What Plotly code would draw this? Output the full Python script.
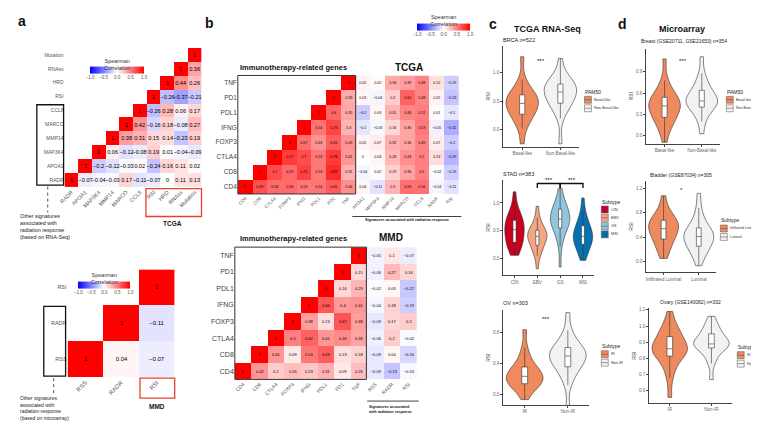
import plotly.graph_objects as go

W, H = 759, 421

# ---------------- data ----------------
a_tcga_labels = ["RADR", "APOA1", "MAP3K4", "MMP14", "MARCO", "CCL8", "RSI", "HRD", "RNAss", "Mutation"]
a_tcga_rows = [
    [1, -0.07, -0.04, -0.03, 0.17, -0.11, -0.07, 0, 0.11, 0.13],
    [1, -0.2, -0.12, -0.03, 0.02, -0.24, 0.16, 0.11, 0.02],
    [1, 0.06, -0.12, -0.08, 0.19, 0.01, -0.04, -0.09],
    [1, 0.38, 0.31, 0.15, 0.14, -0.23, 0.19],
    [1, 0.42, -0.16, 0.18, -0.08, 0.27],
    [1, -0.26, 0.28, 0.06, 0.17],
    [1, -0.26, -0.37, -0.21],
    [1, 0.44, 0.26],
    [1, 0.36],
    [1],
]
a_mmd_labels = ["RSS", "RADR", "RSI"]
a_mmd_rows = [[1, 0.04, -0.07], [1, -0.11], [1]]

imm_genes = ["CD4", "CD8", "CTLA4", "FOXP3", "IFNG", "PDL1", "PD1", "TNF"]
b_tcga_imm = [
    [1, 0.69, 0.58, 0.58, 0.53, 0.54, 0.65, 0.44],
    [1, 0.7, 0.59, 0.75, 0.53, 0.83, 0.31],
    [1, 0.77, 0.7, 0.53, 0.78, 0.41],
    [1, 0.57, 0.43, 0.63, 0.43],
    [1, 0.54, 0.73, 0.3],
    [1, 0.6, 0.35],
    [1, 0.33],
    [1],
]
b_tcga_sigs = ["APOA1", "MAP3K4", "MMP14", "MARCO", "CCL8", "RADR", "RSI"]
b_tcga_sig_vals = [
    [0.04, -0.11, 0.3, 0.56, 0.56, -0.04, -0.11],
    [-0.04, 0.02, 0.19, 0.36, 0.5, -0.02, -0.19],
    [0, 0.04, 0.28, 0.43, 0.5, 0.13, -0.29],
    [0.05, 0.07, 0.32, 0.36, 0.49, 0.07, -0.2],
    [-0.1, -0.03, 0.16, 0.36, 0.53, -0.05, -0.32],
    [-0.2, 0.03, 0.31, 0.48, 0.51, 0.01, -0.1],
    [0.03, -0.04, 0.2, 0.61, 0.48, 0.05, -0.23],
    [0.05, 0.02, 0.33, 0.39, 0.48, 0.12, -0.19],
]
b_mmd_imm = [
    [1, 0.42, 0.2, 0.26, 0.23, 0.31, 0.09, 0.26],
    [1, 0.41, 0.09, 0.53, 0.63, 0.13, 0.18],
    [1, 0.5, 0.62, 0.41, 0.46, 0.36],
    [1, 0.38, 0.13, 0.67, 0.38],
    [1, 0.66, 0.4, 0.42],
    [1, 0.16, 0.29],
    [1, 0.15],
    [1],
]
b_mmd_sigs = ["RSS", "RADR", "RSI"]
b_mmd_sig_vals = [
    [-0.09, -0.23, -0.03],
    [-0.09, 0.04, -0.16],
    [-0.06, 0.2, -0.02],
    [-0.09, 0.17, 0.2],
    [-0.04, 0.18, -0.19],
    [-0.02, 0.03, -0.22],
    [-0.06, 0.27, 0.16],
    [-0.05, 0.1, -0.07],
]

# violin samples (approximate quantiles)
brca_groups = ["Basal-like", "Non-Basal-like"]
brca_basal = [-0.25, 0.02, 0.12, 0.19, 0.24, 0.28, 0.32, 0.36, 0.40, 0.43, 0.46, 0.49, 0.52, 0.55, 0.57, 0.60, 0.64, 0.69, 0.76, 0.88, 1.28]
brca_nonbasal = [-0.25, 0.20, 0.33, 0.40, 0.44, 0.47, 0.52, 0.56, 0.60, 0.63, 0.66, 0.69, 0.72, 0.75, 0.77, 0.79, 0.83, 0.87, 0.92, 1.00, 1.25]

stad_groups = ["CIN", "EBV", "GS", "MSI"]
stad_cin = [0.06, 0.15, 0.20, 0.24, 0.27, 0.30, 0.35, 0.40, 0.44, 0.48, 0.52, 0.55, 0.59, 0.63, 0.66, 0.68, 0.72, 0.77, 0.83, 0.92, 1.20]
stad_ebv = [-0.18, 0.05, 0.11, 0.16, 0.21, 0.25, 0.29, 0.33, 0.36, 0.38, 0.40, 0.42, 0.44, 0.47, 0.49, 0.50, 0.54, 0.59, 0.65, 0.74, 0.94]
stad_gs = [-0.15, 0.22, 0.36, 0.45, 0.52, 0.56, 0.60, 0.63, 0.66, 0.69, 0.71, 0.74, 0.77, 0.80, 0.84, 0.88, 0.92, 0.96, 1.02, 1.10, 1.26]
stad_msi = [-0.03, 0.08, 0.13, 0.18, 0.23, 0.27, 0.31, 0.34, 0.37, 0.39, 0.40, 0.43, 0.46, 0.50, 0.54, 0.58, 0.62, 0.68, 0.75, 0.85, 1.09]

ov_groups = ["IR", "Non-IR"]
ov_ir = [-0.07, 0.04, 0.08, 0.10, 0.12, 0.14, 0.16, 0.18, 0.20, 0.22, 0.23, 0.25, 0.27, 0.30, 0.32, 0.34, 0.38, 0.43, 0.50, 0.60, 0.83]
ov_nonir = [-0.18, 0.12, 0.22, 0.28, 0.33, 0.36, 0.39, 0.42, 0.45, 0.47, 0.49, 0.51, 0.53, 0.55, 0.57, 0.59, 0.63, 0.67, 0.73, 0.82, 1.05]

breast_groups = ["Basal-like", "Non-Basal-like"]
breast_basal = [-0.09, 0.08, 0.14, 0.19, 0.23, 0.27, 0.31, 0.34, 0.37, 0.40, 0.42, 0.44, 0.46, 0.49, 0.51, 0.53, 0.57, 0.62, 0.68, 0.78, 1.08]
breast_nonbasal = [0.03, 0.20, 0.28, 0.33, 0.38, 0.41, 0.44, 0.46, 0.47, 0.48, 0.49, 0.51, 0.54, 0.57, 0.60, 0.63, 0.67, 0.72, 0.79, 0.88, 1.11]

bladder_groups = ["Infiltrated Luminal", "Luminal"]
bladder_il = [0.05, 0.16, 0.22, 0.28, 0.33, 0.38, 0.42, 0.46, 0.49, 0.52, 0.54, 0.57, 0.60, 0.63, 0.65, 0.67, 0.70, 0.74, 0.79, 0.88, 1.08]
bladder_lum = [-0.07, 0.08, 0.13, 0.18, 0.22, 0.26, 0.30, 0.34, 0.37, 0.39, 0.41, 0.43, 0.45, 0.48, 0.51, 0.54, 0.59, 0.65, 0.74, 0.88, 1.12]

ovary_groups = ["IR", "Non-IR"]
ovary_ir = [0.56, 0.68, 0.73, 0.77, 0.80, 0.82, 0.83, 0.84, 0.85, 0.855, 0.86, 0.87, 0.88, 0.90, 0.92, 0.93, 0.95, 0.97, 0.99, 1.02, 1.09]
ovary_nonir = [0.67, 0.77, 0.80, 0.83, 0.85, 0.87, 0.875, 0.88, 0.885, 0.89, 0.89, 0.90, 0.91, 0.92, 0.935, 0.95, 0.96, 0.98, 1.00, 1.02, 1.06]

ORANGE = "#EE8A5E"
LIGHT = "#F2F2F2"
stad_colors = ["#CA0020", "#F4A582", "#92C5DE", "#0571B0"]

# ---------------- helpers ----------------
def X(p):
    return p / W

def Y(p):
    return 1 - p / H

CS = [[0, "#0000FF"], [0.5, "#FFFFFF"], [1, "#FF0000"]]
FONT = "Liberation Sans"

fig = go.Figure()
layout = {}
annotations = []
shapes = []


def fmt(v):
    if v is None:
        return ""
    if v == 1:
        return "1"
    if v == 0:
        return "0"
    s = f"{v:.2f}".rstrip("0").rstrip(".")
    return s.replace("-", "\u2212")


def tri(rows, n):
    return [[None] * (n - len(r)) + list(r) for r in rows]


def axname(k):
    return ("x" if k == 1 else f"x{k}"), ("y" if k == 1 else f"y{k}")


def lkey(k, s):
    return s + ("axis" if k == 1 else f"axis{k}")


def add_heat(k, rowlabels, collabels, z, box, txtsize, rowfs, colfs, rowcol="#555", cbar=None):
    xr, yr = axname(k)
    x0, x1, y0, y1 = box
    text = [[fmt(v) for v in row] for row in z]
    tr = go.Heatmap(z=z, x=collabels, y=rowlabels, text=text, texttemplate="%{text}",
                    textfont=dict(size=txtsize, color="black", family=FONT),
                    colorscale=CS, zmin=-1, zmax=1, xaxis=xr, yaxis=yr,
                    hoverinfo="skip", showscale=cbar is not None)
    if cbar is not None:
        cx, cy, clen = cbar
        tr.colorbar = dict(orientation="h", x=X(cx), xanchor="center", y=Y(cy), yanchor="middle",
                           len=clen / W, lenmode="fraction", thickness=7, outlinewidth=0,
                           title=dict(text="Spearman<br>Correlation", side="top",
                                      font=dict(size=5.5, color="#333", family=FONT)),
                           tickvals=[-1, -0.5, 0, 0.5, 1],
                           ticktext=["\u22121.0", "\u22120.5", "0.0", "0.5", "1.0"],
                           tickfont=dict(size=4.5, color="#555", family=FONT), ticks="", ypad=0, xpad=0)
    fig.add_trace(tr)
    layout[lkey(k, "x")] = dict(domain=[X(x0), X(x1)], anchor=yr, type="category",
                                categoryorder="array", categoryarray=collabels,
                                range=[-0.5, len(collabels) - 0.5], tickangle=-45,
                                tickfont=dict(size=colfs, color="#555", family=FONT),
                                ticks="", showgrid=False, zeroline=False, showline=False, fixedrange=True)
    layout[lkey(k, "y")] = dict(domain=[Y(y1), Y(y0)], anchor=xr, type="category",
                                categoryorder="array", categoryarray=rowlabels,
                                range=[-0.5, len(rowlabels) - 0.5],
                                tickfont=dict(size=rowfs, color=rowcol, family=FONT),
                                ticks="", showgrid=False, zeroline=False, showline=False, fixedrange=True)


def add_violins(k, groups, datas, colors, box, yrange, tvals, ttext):
    xr, yr = axname(k)
    x0, x1, y0, y1 = box
    for g, d, c in zip(groups, datas, colors):
        fig.add_trace(go.Violin(x=[g] * len(d), y=d, name=g, fillcolor=c,
                                line=dict(color="#333333", width=0.6),
                                box=dict(visible=True, width=0.16, fillcolor="white",
                                         line=dict(color="#333333", width=0.6)),
                                meanline=dict(visible=False), points=False, spanmode="hard",
                                width=0.85, showlegend=False, hoverinfo="skip",
                                xaxis=xr, yaxis=yr))
    layout[lkey(k, "x")] = dict(domain=[X(x0), X(x1)], anchor=yr, type="category",
                                categoryorder="array", categoryarray=groups,
                                range=[-0.5, len(groups) - 0.5],
                                tickfont=dict(size=4.5, color="#666", family=FONT),
                                ticks="outside", ticklen=2, tickwidth=0.5, tickcolor="#444",
                                showline=True, linecolor="#444", linewidth=0.7,
                                showgrid=False, zeroline=False, fixedrange=True)
    layout[lkey(k, "y")] = dict(domain=[Y(y1), Y(y0)], anchor=xr, range=yrange,
                                tickvals=tvals, ticktext=ttext,
                                tickfont=dict(size=4.5, color="#666", family=FONT),
                                ticks="outside", ticklen=2, tickwidth=0.5, tickcolor="#444",
                                showline=True, linecolor="#444", linewidth=0.7,
                                title=dict(text="RSI", font=dict(size=5, color="#333", family=FONT), standoff=2),
                                showgrid=False, zeroline=False, fixedrange=True)


def text(x, y, s, size, bold=False, xanchor="center", yanchor="middle", color="#111", align="center"):
    annotations.append(dict(x=X(x), y=Y(y), xref="paper", yref="paper", text=(f"<b>{s}</b>" if bold else s),
                            showarrow=False, xanchor=xanchor, yanchor=yanchor, align=align, borderpad=0,
                            font=dict(size=size, color=color, family=FONT)))


def rect(x0, y0, x1, y1, color, width=1.0, fill=None):
    shapes.append(dict(type="rect", xref="paper", yref="paper", x0=X(x0), x1=X(x1), y0=Y(y1), y1=Y(y0),
                       line=dict(color=color, width=width), fillcolor=fill if fill else "rgba(0,0,0,0)"))


def line(x0, y0, x1, y1, color="#222", width=0.8, dash="solid"):
    shapes.append(dict(type="line", xref="paper", yref="paper", x0=X(x0), x1=X(x1), y0=Y(y0), y1=Y(y1),
                       line=dict(color=color, width=width, dash=dash)))


def legend(x, y, title, names, colors, step=8.5, tsize=5, lsize=3.6):
    text(x, y, title, tsize, xanchor="left", color="#222")
    for i, (n, c) in enumerate(zip(names, colors)):
        cy = y + 8 + i * step
        rect(x, cy - 3.5, x + 7, cy + 3.5, "#555", 0.5, c)
        line(x, cy, x + 7, cy, "#444", 0.5)
        text(x + 9, cy, n, lsize, xanchor="left", color="#333")


# ---------------- panel a ----------------
add_heat(1, a_tcga_labels, a_tcga_labels, tri(a_tcga_rows, 10), (51, 189, 39, 178.5),
         5.6, 5, 5.5, cbar=(104, 57.5, 54))
add_heat(2, a_mmd_labels, a_mmd_labels, tri(a_mmd_rows, 3), (54, 162, 261, 369),
         6, 5.5, 6, cbar=(91, 272.5, 52))

# ---------------- panel b ----------------
zb1 = [l + list(r) for l, r in zip(tri(b_tcga_imm, 8), b_tcga_sig_vals)]
add_heat(3, imm_genes, imm_genes + b_tcga_sigs, zb1, (225.6, 448.5, 66.6, 185.4),
         3.6, 6.5, 4.5, rowcol="#444", cbar=(433, 14, 53))
zb2 = [l + list(r) for l, r in zip(tri(b_mmd_imm, 8), b_mmd_sig_vals)]
add_heat(4, imm_genes, imm_genes + b_mmd_sigs, zb2, (222.6, 406, 238.7, 371.3),
         4, 7, 5, rowcol="#444")

# ---------------- panel c ----------------
add_violins(5, brca_groups, [brca_basal, brca_nonbasal], [ORANGE, LIGHT], (493, 570, 37, 138),
            [-0.30, 1.47], [0, 0.5, 1.0], ["0.0", "0.5", "1.0"])
add_violins(6, stad_groups, [stad_cin, stad_ebv, stad_gs, stad_msi], stad_colors, (493, 585, 171, 267),
            [-0.30, 1.42], [0, 0.5, 1.0], ["0.0", "0.5", "1.0"])
add_violins(7, ov_groups, [ov_ir, ov_nonir], [ORANGE, LIGHT], (493, 580, 302, 397),
            [-0.14, 1.08], [0, 0.4, 0.8], ["0.0", "0.4", "0.8"])

# ---------------- panel d ----------------
add_violins(8, breast_groups, [breast_basal, breast_nonbasal], [ORANGE, LIGHT], (637, 712, 40, 135),
            [-0.11, 1.22], [0, 0.3, 0.6, 0.9], ["0.0", "0.3", "0.6", "0.9"])
add_violins(9, bladder_groups, [bladder_il, bladder_lum], [ORANGE, LIGHT], (637, 708, 172, 264),
            [-0.18, 1.33], [0, 0.4, 0.8, 1.2], ["0.0", "0.4", "0.8", "1.2"])
add_violins(10, ovary_groups, [ovary_ir, ovary_nonir], [ORANGE, LIGHT], (640, 724, 300, 395),
            [0.525, 1.11], [0.6, 0.7, 0.8, 0.9, 1.0, 1.1], ["0.6", "0.7", "0.8", "0.9", "1.0", "1.1"])

# ---------------- decorations ----------------
text(8, 12, "a", 14, bold=True)
text(197, 14, "b", 14, bold=True)
text(483, 15, "c", 14, bold=True)
text(613, 15, "d", 14, bold=True)

rect(23, 96, 50, 176.5, "#111", 1.3)
line(34, 178, 34, 204, dash="dot")
text(5, 203, "Other signatures<br>associated with<br>radiation response<br>(based on RNA-Seq)", 5.4,
     xanchor="left", yanchor="top", align="left", color="#222")
rect(133, 180, 189, 208, "#E8402A", 1.3)
text(160, 215, "TCGA", 6.5, bold=True)

rect(30, 298, 52, 368, "#111", 1.3)
line(40, 370, 40, 386, dash="dot")
text(5, 386, "Other signatures<br>associated with<br>radiation response<br>(based on microarray)", 5.0,
     xanchor="left", yanchor="top", align="left", color="#222")
rect(127, 370, 162, 390, "#E8402A", 1.3)
text(144, 398, "MMD", 6.5, bold=True)

rect(225.6, 66.6, 344.4, 185.4, "#333", 1.0)
text(282, 59, "Immunotherapy-related genes", 7.5, bold=True)
text(398, 59, "TCGA", 10, bold=True)
line(341, 208, 451, 208, "#111", 0.8)
text(396, 212, "Signatures associated with radiation response", 3.8, bold=True)

rect(222.6, 238.7, 355.2, 371.3, "#333", 1.0)
text(282, 230, "Immunotherapy-related genes", 7.5, bold=True)
text(380, 229, "MMD", 10, bold=True)
line(356, 393, 408, 393, "#111", 0.8)
text(356, 396, "Signatures associated<br>with radiation response", 3.8, bold=True, xanchor="left",
     yanchor="top", align="left")

text(538, 20, "TCGA RNA-Seq", 9, bold=True)
text(673, 20, "Microarray", 9, bold=True)

text(492, 31, "BRCA n=522", 5.5, xanchor="left", color="#222")
text(492, 165, "STAD n=383", 5.5, xanchor="left", color="#222")
text(492, 295, "OV n=303", 5.5, xanchor="left", color="#222")
text(675, 32, "Breast (GSE20711, GSE21653) n=354", 5, color="#222")
text(672, 166, "Bladder (GSE87034) n=305", 5, color="#222")
text(682, 294, "Ovary (GSE140082) n=332", 5, color="#222")


def sig(k, x, y, s):
    xr, yr = axname(k)
    annotations.append(dict(x=x, y=y, xref=xr, yref=yr, text=s, showarrow=False,
                            yanchor="bottom", font=dict(size=6, color="#111", family=FONT)))


sig(5, 0.5, 1.12, "***")
sig(7, 0.5, 0.90, "***")
sig(8, 0.5, 0.98, "***")
sig(9, 0.5, 1.10, "*")
for a_, b_ in [(1, 2), (2, 3)]:
    shapes.append(dict(type="path", xref="x6", yref="y6",
                       path=f"M {a_},1.27 L {a_},1.35 L {b_},1.35 L {b_},1.27",
                       line=dict(color="#111", width=1.4)))
    sig(6, (a_ + b_) / 2, 1.33, "***")

legend(575, 83, "PAM50", brca_groups, [ORANGE, LIGHT], lsize=3.8)
legend(592, 193, "Subtype", stad_groups, stad_colors, step=8.3, lsize=3.8)
legend(592, 338, "Subtype", ov_groups, [ORANGE, LIGHT], lsize=3.8)
legend(718, 83, "PAM50", breast_groups, [ORANGE, LIGHT], lsize=3.5)
legend(712, 212, "Subtype", bladder_groups, [ORANGE, LIGHT], lsize=3.4)
legend(729, 339, "Subtype", ovary_groups, [ORANGE, LIGHT], tsize=4.6, lsize=3.5)

fig.update_layout(width=W, height=H, margin=dict(l=0, r=0, t=0, b=0),
                  paper_bgcolor="white", plot_bgcolor="rgba(0,0,0,0)",
                  font=dict(family=FONT), showlegend=False,
                  violinmode="overlay", violingap=0.1,
                  annotations=annotations, shapes=shapes, **layout)

fig.write_html("out.html")
